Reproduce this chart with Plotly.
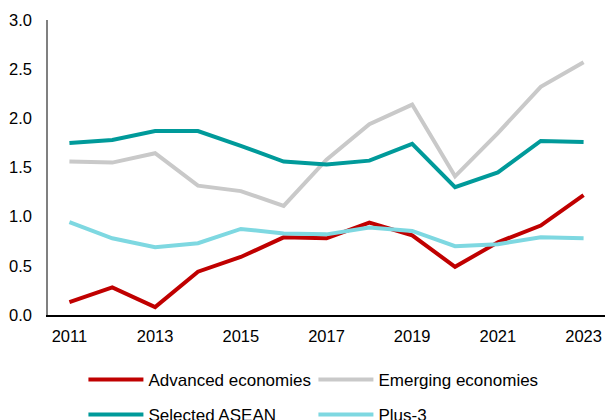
import plotly.graph_objects as go

years = list(range(2011, 2024))
advanced = [0.13, 0.28, 0.08, 0.44, 0.59, 0.79, 0.78, 0.94, 0.81, 0.49, 0.74, 0.91, 1.22]
emerging = [1.56, 1.55, 1.645, 1.315, 1.26, 1.11, 1.58, 1.94, 2.14, 1.41, 1.85, 2.32, 2.57]
asean = [1.75, 1.78, 1.87, 1.87, 1.72, 1.56, 1.53, 1.57, 1.74, 1.30, 1.45, 1.77, 1.76]
plus3 = [0.945, 0.78, 0.69, 0.73, 0.875, 0.83, 0.82, 0.89, 0.855, 0.70, 0.72, 0.79, 0.78]

series = [
    ("Advanced economies", advanced, "#C00000", "legend"),
    ("Emerging economies", emerging, "#C9C9C9", "legend"),
    ("Selected ASEAN", asean, "#009A9A", "legend2"),
    ("Plus-3", plus3, "#7ED8E1", "legend2"),
]

fig = go.Figure()
for name, vals, color, lg in series:
    fig.add_trace(go.Scatter(x=years, y=vals, name=name, mode="lines",
                             line=dict(color=color, width=4), legend=lg))

font = dict(family="Liberation Sans, Arial, sans-serif", size=16.5, color="#000000")
leg_common = dict(orientation="h", xanchor="left", yanchor="middle",
                  font=dict(family="Liberation Sans, Arial, sans-serif", size=17, color="#000000"),
                  entrywidth=160, entrywidthmode="pixels", bgcolor="rgba(0,0,0,0)",
                  itemwidth=55, itemclick=False, itemdoubleclick=False)

fig.update_layout(
    width=605, height=420,
    margin=dict(l=48, r=0, t=20, b=105, autoexpand=False),
    paper_bgcolor="white", plot_bgcolor="white",
    font=font,
    showlegend=True,
    legend=dict(x=0.0636, y=-0.22, **leg_common),
    legend2=dict(x=0.0636, y=-0.339, **leg_common),
    xaxis=dict(range=[2010.5, 2023.5], tickvals=[2011, 2013, 2015, 2017, 2019, 2021, 2023],
               showgrid=False, zeroline=False, showline=True, linecolor="#000000", linewidth=1.5,
               ticks="", ticklabelstandoff=5, tickfont=font, automargin=False),
    yaxis=dict(range=[0, 3.0], tickvals=[0, 0.5, 1.0, 1.5, 2.0, 2.5, 3.0], tickformat=".1f",
               showgrid=False, zeroline=False, showline=True, linecolor="#808080", linewidth=1.5,
               ticks="", ticklabelstandoff=11, tickfont=font, automargin=False),
)

fig.write_html("out.html", config={"displayModeBar": False},
               post_script="document.body.style.margin='0';document.body.style.overflow='hidden';")
